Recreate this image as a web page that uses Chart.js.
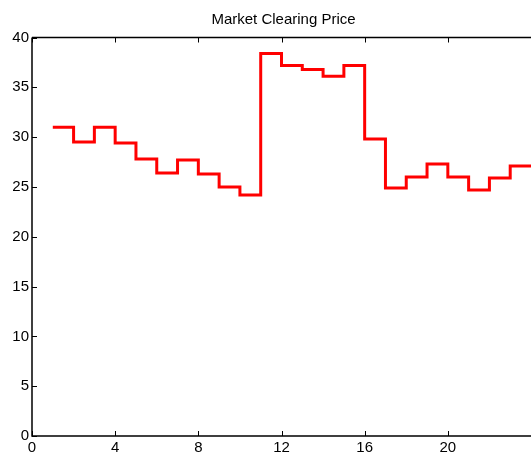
<!DOCTYPE html>
<html>
<head>
<meta charset="utf-8">
<script src="https://cdn.jsdelivr.net/npm/chart.js@4"></script>
<style>
  body { margin: 0; background: #fff; }
  #wrap { width: 531px; height: 455px; }
</style>
</head>
<body>
<div id="wrap"><canvas id="priceChart" width="531" height="455"></canvas></div>
<script>
// hours and market clearing price (stairs plot)
const hours = [1, 2, 3, 4, 5, 6, 7, 8, 9, 10, 11, 12, 13, 14, 15, 16, 17, 18, 19, 20, 21, 22, 23, 24];
const prices = [31.0, 29.5, 31.0, 29.4, 27.8, 26.4, 27.7, 26.3, 25.0, 24.2, 38.4, 37.2, 36.8, 36.1, 37.2, 29.8, 24.9, 26.0, 27.3, 26.0, 24.7, 25.9, 27.1, 27.1];
const xTicks = [0, 4, 8, 12, 16, 20];
const yTicks = [0, 5, 10, 15, 20, 25, 30, 35, 40];
const titleText = 'Market Clearing Price';

const FONT = 'Liberation Sans, Arial, Helvetica, sans-serif';

// matlab style box, inward ticks and title centred over the axes
const boxPlugin = {
  id: 'boxTicks',
  afterDraw(chart) {
    const { ctx, chartArea: a, scales: { x, y } } = chart;
    ctx.save();
    ctx.strokeStyle = '#000';
    ctx.lineWidth = 1.5;
    ctx.beginPath();
    ctx.moveTo(a.left, a.top);
    ctx.lineTo(a.right, a.top);
    ctx.moveTo(a.left, a.top);
    ctx.lineTo(a.left, a.bottom);
    ctx.lineTo(a.right, a.bottom);
    ctx.stroke();
    ctx.lineWidth = 1;
    ctx.beginPath();
    xTicks.forEach(v => {
      const px = Math.round(x.getPixelForValue(v)) + 0.5;
      ctx.moveTo(px, a.bottom);
      ctx.lineTo(px, a.bottom - 5);
      ctx.moveTo(px, a.top);
      ctx.lineTo(px, a.top + 5);
    });
    yTicks.forEach(v => {
      const py = Math.round(y.getPixelForValue(v)) + 0.5;
      ctx.moveTo(a.left, py);
      ctx.lineTo(a.left + 5, py);
    });
    ctx.stroke();

    ctx.fillStyle = '#000';
    ctx.font = '15px ' + FONT;
    ctx.textAlign = 'center';
    ctx.textBaseline = 'middle';
    ctx.fillText(titleText, (a.left + a.right) / 2 + 2, 20);
    ctx.restore();
  }
};

new Chart(document.getElementById('priceChart'), {
  type: 'line',
  data: {
    datasets: [{
      data: hours.map((h, i) => ({ x: h, y: prices[i] })),
      borderColor: '#ff0000',
      borderWidth: 3,
      stepped: 'before',
      pointRadius: 0,
      fill: false
    }]
  },
  options: {
    responsive: false,
    animation: false,
    layout: { padding: { left: 0, right: 0, top: 37.5, bottom: 0 } },
    plugins: {
      legend: { display: false },
      tooltip: { enabled: false },
      title: { display: false }
    },
    scales: {
      x: {
        type: 'linear',
        min: 0,
        max: 24,
        afterFit: s => { s.height = 19; },
        afterBuildTicks: s => { s.ticks = xTicks.map(v => ({ value: v })); },
        grid: { display: false, drawTicks: false },
        border: { display: false },
        ticks: { color: '#000', padding: 3, maxRotation: 0, font: { family: FONT, size: 15 } }
      },
      y: {
        min: 0,
        max: 40,
        afterFit: s => { s.width = 32; },
        afterBuildTicks: s => { s.ticks = yTicks.map(v => ({ value: v })); },
        grid: { display: false, drawTicks: false },
        border: { display: false },
        ticks: { color: '#000', padding: 3, font: { family: FONT, size: 15 } }
      }
    }
  },
  plugins: [boxPlugin]
});
</script>
</body>
</html>
